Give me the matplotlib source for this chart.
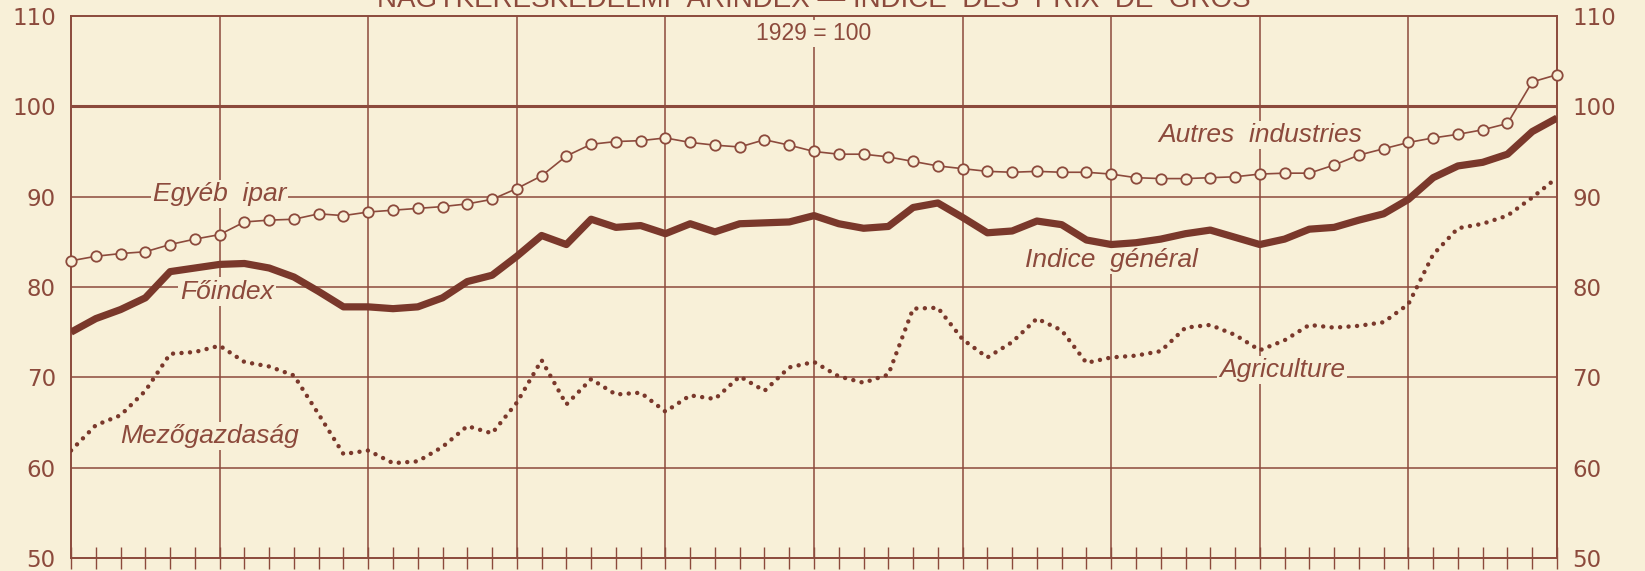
import matplotlib.pyplot as plt
import numpy as np

# monthly index values, 1929 = 100 (61 months)
months = np.arange(61)

egyeb_ipar = [82.9, 83.4, 83.7, 83.9, 84.7, 85.3, 85.8, 87.2, 87.4, 87.5,
              88.1, 87.9, 88.3, 88.5, 88.7, 88.9, 89.2, 89.7, 90.9, 92.3,
              94.5, 95.8, 96.1, 96.2, 96.5, 96.0, 95.7, 95.5, 96.3, 95.7,
              95.0, 94.7, 94.7, 94.4, 93.9, 93.4, 93.1, 92.8, 92.7, 92.8,
              92.7, 92.7, 92.5, 92.1, 92.0, 92.0, 92.1, 92.2, 92.5, 92.6,
              92.6, 93.5, 94.6, 95.3, 96.0, 96.5, 96.9, 97.4, 98.1, 102.7,
              103.5]

foindex = [75.0, 76.5, 77.5, 78.8, 81.7, 82.1, 82.5, 82.6, 82.1, 81.1,
           79.5, 77.8, 77.8, 77.6, 77.8, 78.8, 80.6, 81.3, 83.4, 85.7,
           84.7, 87.5, 86.6, 86.8, 85.9, 87.0, 86.1, 87.0, 87.1, 87.2,
           87.9, 87.0, 86.5, 86.7, 88.8, 89.3, 87.7, 86.0, 86.2, 87.3,
           86.9, 85.2, 84.7, 84.9, 85.3, 85.9, 86.3, 85.5, 84.7, 85.3,
           86.4, 86.6, 87.4, 88.1, 89.7, 92.1, 93.4, 93.8, 94.7, 97.2,
           98.7]

mezogazdasag = [61.9, 64.7, 65.8, 68.5, 72.6, 72.8, 73.5, 71.7, 71.2, 70.2,
                65.9, 61.5, 61.9, 60.5, 60.7, 62.3, 64.6, 63.8, 67.2, 71.9,
                67.0, 69.8, 68.1, 68.3, 66.2, 68.0, 67.6, 70.1, 68.5, 71.1,
                71.7, 70.1, 69.4, 70.3, 77.6, 77.7, 74.2, 72.2, 73.9, 76.5,
                75.2, 71.6, 72.2, 72.4, 72.9, 75.5, 75.8, 74.7, 73.0, 74.1,
                75.8, 75.5, 75.7, 76.1, 78.1, 83.6, 86.5, 87.0, 87.9, 89.9,
                92.1]

y_ticks = [50, 60, 70, 80, 90, 100, 110]

bg = '#F8F0D8'
ink = '#8C4A3C'
dark = '#7A382B'

fig = plt.figure(figsize=(16.45, 5.71), dpi=100, facecolor=bg)
ax = fig.add_axes([0.0432, 0.0228, 0.9033, 0.9492])
ax.set_facecolor(bg)

ax.set_xlim(0, 60)
ax.set_ylim(50, 110)

# grid
ax.set_axisbelow(True)
for v in [60, 70, 80, 90]:
    ax.axhline(v, color=ink, lw=1.1, zorder=0.5)
ax.axhline(100, color=ink, lw=2.2, zorder=0.5)
for m in range(6, 60, 6):
    ax.axvline(m, color=ink, lw=1.1, zorder=0.5)

for s in ax.spines.values():
    s.set_color(ink)
    s.set_linewidth(1.4)

ax.set_xticks(range(0, 61, 6))
ax.set_xticks(months, minor=True)
ax.set_xticklabels([])
ax.tick_params(axis='x', which='both', direction='inout', length=16.5,
               width=1.0, color=ink)

ax.set_yticks(y_ticks)
ax.tick_params(axis='y', length=0, labelsize=16.5, labelcolor=ink,
               left=True, right=True, labelleft=True, labelright=True)
ax.tick_params(axis='y', pad=11)
for lab in ax.get_yticklabels():
    lab.set_fontfamily('DejaVu Sans')

# series
ax.plot(months, egyeb_ipar, color=ink, lw=1.2, marker='o', ms=7.5,
        mfc=bg, mec=ink, mew=1.3, zorder=3, clip_on=False)
ax.plot(months, foindex, color=dark, lw=5.2, solid_joinstyle='round',
        solid_capstyle='butt', zorder=3)
ax.plot(months, mezogazdasag, color=dark, lw=3.2,
        linestyle=(0, (0.01, 1.9)), dash_capstyle='round', zorder=3)

# labels
lab_kw = dict(fontsize=19, style='italic', family='Liberation Sans',
              color=ink, ha='center', va='center', zorder=1.5,
              bbox=dict(facecolor=bg, edgecolor='none', pad=1.5))
ax.text(6.0, 90.3, 'Egyéb  ipar', **lab_kw)
ax.text(6.3, 79.5, 'Főindex', **lab_kw)
ax.text(5.6, 63.5, 'Mezőgazdaság', **lab_kw)
ax.text(48.0, 96.8, 'Autres  industries', **lab_kw)
ax.text(42.0, 83.0, 'Indice  général', **lab_kw)
ax.text(48.9, 70.8, 'Agriculture', **lab_kw)

ax.text(30, 108.1, '1929 = 100', fontsize=16.5, color=ink, ha='center',
        va='center', family=['Liberation Sans Narrow', 'Liberation Sans'],
        zorder=1.5, bbox=dict(facecolor=bg, edgecolor='none', pad=1.5))

fig.text(0.4948, 1 - 7 / 571, 'NAGYKERESKEDELMI  ÁRINDEX — INDICE  DES  PRIX  DE  GROS',
         fontsize=20, color=ink, ha='center', va='baseline',
         family='Liberation Sans')

fig.savefig('out.png', dpi=100, facecolor=bg)
